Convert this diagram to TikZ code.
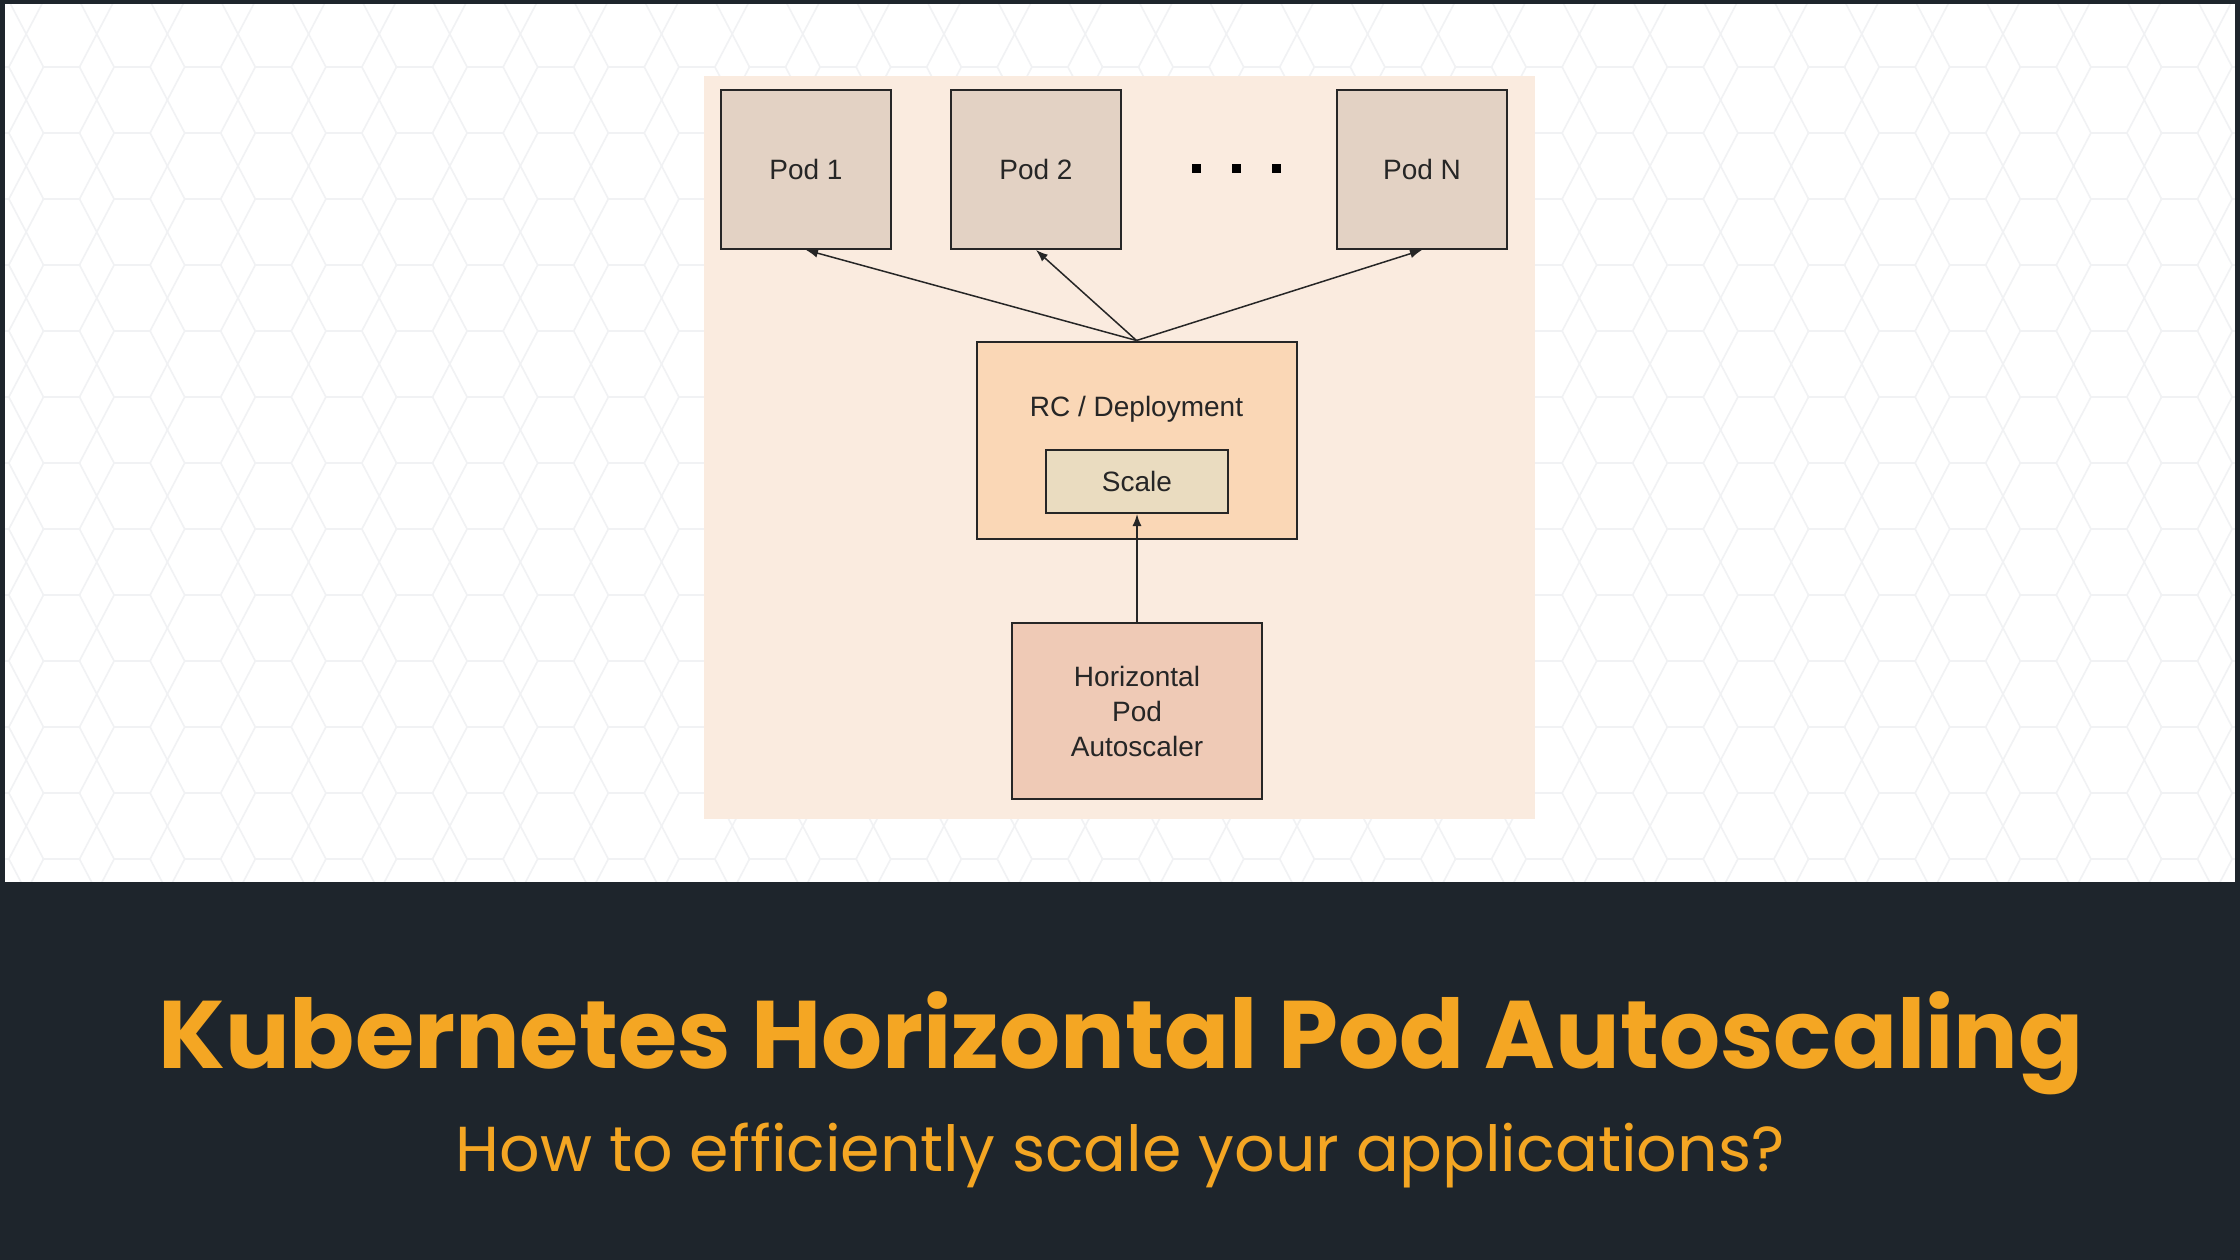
\documentclass[tikz,border=0pt]{standalone}
\usepackage{fontspec}
\setmainfont{Liberation Sans}
\newfontfamily\titlefont{Poppins}
\usetikzlibrary{arrows.meta}

\definecolor{bandcol}{HTML}{1E252C}
\definecolor{titlecol}{HTML}{F4A623}
\definecolor{hexcol}{HTML}{F1F2F4}
\definecolor{panelcol}{HTML}{FAEBDF}
\definecolor{podcol}{HTML}{E3D2C4}
\definecolor{rccol}{HTML}{FAD7B6}
\definecolor{scalecol}{HTML}{EADCC0}
\definecolor{hpacol}{HTML}{EFCAB6}
\definecolor{inkcol}{HTML}{262626}

\tikzset{
  box/.style={draw=inkcol, line width=2pt, inner sep=0pt, text=inkcol,
    font=\fontsize{28}{35}\selectfont, align=center},
  podbox/.style={box, fill=podcol, minimum width=170pt, minimum height=159pt},
  link/.style={draw=inkcol, line width=1.5pt, -{Latex[length=12pt,width=9pt]}}
}

\begin{document}
\begin{tikzpicture}[x=1pt, y=-1pt]

% Canvas size (in pixels of the reference)
\def\W{2240}
\def\H{1260}
\def\bandtop{882}

\useasboundingbox (0,0) rectangle (\W,\H);

% White area with hexagon pattern
\fill[white] (0,0) rectangle (\W,\bandtop);
\begin{scope}
  \clip (0,0) rectangle (\W,\bandtop);
  \foreach \c in {-1,...,32} {
    \foreach \r in {-1,...,13} {
      \pgfmathsetmacro{\cx}{61.5+\c*70.6}
      \pgfmathsetmacro{\cy}{100+\r*66}
      \draw[hexcol, line width=1.6pt]
        (\cx-18,\cy-33) -- (\cx+18,\cy-33) -- (\cx+35.3,\cy)
        -- (\cx+18,\cy+33) -- (\cx-18,\cy+33) -- (\cx-35.3,\cy) -- cycle;
    }
  }
\end{scope}

% Dark frame and bottom band
\fill[bandcol] (0,\bandtop) rectangle (\W,\H);
\fill[bandcol] (0,0) rectangle (5,\bandtop);
\fill[bandcol] (0,0) rectangle (\W,4);
\fill[bandcol] (2235,0) rectangle (\W,\bandtop);

% Diagram panel
\fill[panelcol] (704,76) rectangle (1535,819);

% Pods
\node[podbox] (pod1) at (806,169.5) {Pod 1};
\node[podbox] (pod2) at (1036,169.5) {Pod 2};
\node[podbox] (podN) at (1422,169.5) {Pod N};

% Dots between Pod 2 and Pod N
\foreach \x/\n in {1196/a,1236/b,1276/c}
  \node[fill=black, inner sep=0pt, minimum size=9pt] (dot\n) at (\x,169) {};

% RC / Deployment with Scale inside
\node[box, fill=rccol, minimum width=320pt, minimum height=197pt] (rc) at (1136.5,440) {};
\node[text=inkcol, font=\fontsize{28}{35}\selectfont] (rclabel) at (1136.5,409) {RC / Deployment};
\node[box, fill=scalecol, minimum width=182pt, minimum height=63pt] (scale) at (1137,481.5) {Scale};

% Horizontal Pod Autoscaler
\node[box, fill=hpacol, minimum width=250pt, minimum height=176pt] (hpa) at (1137,711) {Horizontal\\Pod\\Autoscaler};

% Arrows
\draw[link] (rc.north) -- (pod1.south);
\draw[link] (rc.north) -- (pod2.south);
\draw[link] (rc.north) -- (podN.south);
\draw[link] (hpa.north) -- (scale.south);

% Title and subtitle
\node[text=titlecol, font=\titlefont\bfseries\fontsize{96}{110}\selectfont, anchor=base] (title) at (1121,1068) {Kubernetes Horizontal Pod Autoscaling};
\node[text=titlecol, font=\titlefont\fontsize{63.5}{76}\selectfont, anchor=base] (subtitle) at (1120,1171) {How to efficiently scale your applications?};

\end{tikzpicture}
\end{document}
